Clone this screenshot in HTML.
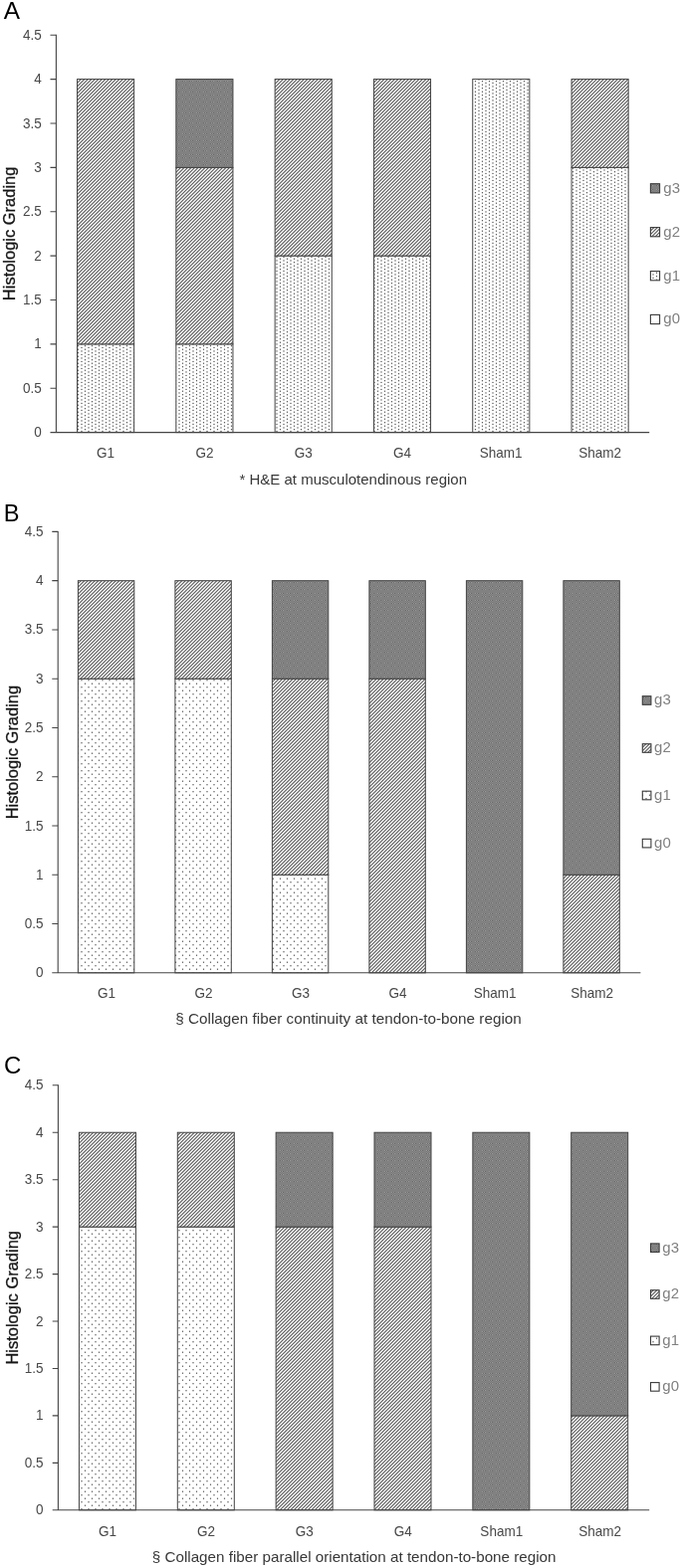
<!DOCTYPE html>
<html lang="en"><head><meta charset="utf-8"><title>Histologic grading charts</title>
<style>html,body{margin:0;padding:0;background:#fff}svg{display:block}text{font-family:"Liberation Sans", sans-serif}</style>
</head><body>
<svg width="685" height="1576" viewBox="0 0 685 1576">
<defs>
<pattern id="g2" patternUnits="userSpaceOnUse" width="35" height="35"><rect width="35" height="35" fill="#fbfbfb"/><path d="M1.00 -1L-1 1.00M4.50 -1L-1 4.50M8.00 -1L-1 8.00M11.50 -1L-1 11.50M15.00 -1L-1 15.00M18.50 -1L-1 18.50M22.00 -1L-1 22.00M25.50 -1L-1 25.50M29.00 -1L-1 29.00M32.50 -1L-1 32.50M36.00 -1L-1 36.00M39.50 -1L-1 39.50M43.00 -1L-1 43.00M46.50 -1L-1 46.50M50.00 -1L-1 50.00M53.50 -1L-1 53.50M57.00 -1L-1 57.00M60.50 -1L-1 60.50M64.00 -1L-1 64.00M67.50 -1L-1 67.50M71.00 -1L-1 71.00M74.50 -1L-1 74.50" stroke="#5a5a5a" stroke-width="1.08" fill="none"/></pattern>
<pattern id="d10" patternUnits="userSpaceOnUse" width="7" height="7" x="0" y="0"><rect width="7" height="7" fill="#fff"/><rect x="0.90" y="0.60" width="1.20" height="1.20" fill="#4c4c4c"/><rect x="4.40" y="2.35" width="1.20" height="1.20" fill="#4c4c4c"/><rect x="0.90" y="4.10" width="1.20" height="1.20" fill="#4c4c4c"/><rect x="4.40" y="5.85" width="1.20" height="1.20" fill="#4c4c4c"/></pattern>
<pattern id="d5" patternUnits="userSpaceOnUse" width="7" height="7" x="0" y="0"><rect width="7" height="7" fill="#fff"/><rect x="0.90" y="0.60" width="1.20" height="1.20" fill="#4c4c4c"/><rect x="4.40" y="4.10" width="1.20" height="1.20" fill="#4c4c4c"/></pattern>
<pattern id="g3" patternUnits="userSpaceOnUse" width="7" height="7"><rect width="7" height="7" fill="#818181"/><rect x="1" y="1" width="1" height="1" fill="#999999"/><rect x="2" y="1" width="1" height="1" fill="#6e6e6e"/><rect x="3" y="1" width="1" height="1" fill="#949494"/><rect x="4" y="1" width="1" height="1" fill="#696969"/><rect x="1" y="2" width="1" height="1" fill="#777777"/><rect x="2" y="2" width="1" height="1" fill="#898989"/><rect x="3" y="2" width="1" height="1" fill="#797979"/><rect x="4" y="2" width="1" height="1" fill="#8b8b8b"/><rect x="1" y="3" width="1" height="1" fill="#8b8b8b"/><rect x="2" y="3" width="1" height="1" fill="#797979"/><rect x="3" y="3" width="1" height="1" fill="#898989"/><rect x="4" y="3" width="1" height="1" fill="#777777"/><rect x="1" y="4" width="1" height="1" fill="#696969"/><rect x="2" y="4" width="1" height="1" fill="#949494"/><rect x="3" y="4" width="1" height="1" fill="#6e6e6e"/><rect x="4" y="4" width="1" height="1" fill="#999999"/></pattern>
</defs>
<rect width="685" height="1576" fill="#fff"/>
<g>
<text x="3.7" y="18.8" font-size="24.4" fill="#000">A</text>
<rect x="77.55" y="345.84" width="57.10" height="88.76" fill="url(#d10)" stroke="#424242" stroke-width="1"/>
<rect x="77.55" y="79.58" width="57.10" height="266.27" fill="url(#g2)" stroke="#424242" stroke-width="1"/>
<rect x="176.85" y="345.84" width="57.10" height="88.76" fill="url(#d10)" stroke="#424242" stroke-width="1"/>
<rect x="176.85" y="168.33" width="57.10" height="177.51" fill="url(#g2)" stroke="#424242" stroke-width="1"/>
<rect x="176.85" y="79.58" width="57.10" height="88.76" fill="url(#g3)" stroke="#424242" stroke-width="1"/>
<rect x="276.15" y="257.09" width="57.10" height="177.51" fill="url(#d10)" stroke="#424242" stroke-width="1"/>
<rect x="276.15" y="79.58" width="57.10" height="177.51" fill="url(#g2)" stroke="#424242" stroke-width="1"/>
<rect x="375.45" y="257.09" width="57.10" height="177.51" fill="url(#d10)" stroke="#424242" stroke-width="1"/>
<rect x="375.45" y="79.58" width="57.10" height="177.51" fill="url(#g2)" stroke="#424242" stroke-width="1"/>
<rect x="474.75" y="79.58" width="57.10" height="355.02" fill="url(#d10)" stroke="#424242" stroke-width="1"/>
<rect x="574.05" y="168.33" width="57.10" height="266.27" fill="url(#d10)" stroke="#424242" stroke-width="1"/>
<rect x="574.05" y="79.58" width="57.10" height="88.76" fill="url(#g2)" stroke="#424242" stroke-width="1"/>
<path d="M56.40 34.70V435.10 M50.50 434.60H652.20" stroke="#454545" stroke-width="1.1" fill="none"/>
<path d="M50.50 390.22H56.40M50.50 345.84H56.40M50.50 301.47H56.40M50.50 257.09H56.40M50.50 212.71H56.40M50.50 168.33H56.40M50.50 123.96H56.40M50.50 79.58H56.40M50.50 35.20H56.40" stroke="#454545" stroke-width="1.1" fill="none"/>
<g font-size="14.4" fill="#484848" text-anchor="end">
<text transform="translate(41.8 439.1) scale(0.94 1)">0</text>
<text transform="translate(41.8 394.7) scale(0.94 1)">0.5</text>
<text transform="translate(41.8 350.3) scale(0.94 1)">1</text>
<text transform="translate(41.8 306.0) scale(0.94 1)">1.5</text>
<text transform="translate(41.8 261.6) scale(0.94 1)">2</text>
<text transform="translate(41.8 217.2) scale(0.94 1)">2.5</text>
<text transform="translate(41.8 172.8) scale(0.94 1)">3</text>
<text transform="translate(41.8 128.5) scale(0.94 1)">3.5</text>
<text transform="translate(41.8 84.1) scale(0.94 1)">4</text>
<text transform="translate(41.8 39.7) scale(0.94 1)">4.5</text>
</g>
<g font-size="14.4" fill="#484848" text-anchor="middle">
<text transform="translate(106.1 459.6) scale(0.94 1)">G1</text>
<text transform="translate(205.4 459.6) scale(0.94 1)">G2</text>
<text transform="translate(304.7 459.6) scale(0.94 1)">G3</text>
<text transform="translate(404.0 459.6) scale(0.94 1)">G4</text>
<text transform="translate(503.2 459.6) scale(0.94 1)">Sham1</text>
<text transform="translate(602.6 459.6) scale(0.94 1)">Sham2</text>
</g>
<text transform="translate(15.4 234.9) rotate(-90)" font-size="16.4" fill="#151515" stroke="#151515" stroke-width="0.3" text-anchor="middle" textLength="134.5" lengthAdjust="spacingAndGlyphs">Histologic Grading</text>
<text x="240.5" y="486.7" font-size="14.4" fill="#383838" textLength="228.5" lengthAdjust="spacingAndGlyphs">* H&amp;E at musculotendinous region</text>
<rect x="653.40" y="184.70" width="9.20" height="9.20" fill="url(#g3)" stroke="#3a3a3a" stroke-width="1.1"/>
<text x="666.3" y="193.6" font-size="15" fill="#808080">g3</text>
<rect x="653.40" y="228.60" width="9.20" height="9.20" fill="url(#g2)" stroke="#3a3a3a" stroke-width="1.1"/>
<text x="666.3" y="237.5" font-size="15" fill="#808080">g2</text>
<rect x="653.40" y="272.60" width="9.20" height="9.20" fill="url(#d10)" stroke="#3a3a3a" stroke-width="1.1"/>
<text x="666.3" y="281.5" font-size="15" fill="#808080">g1</text>
<rect x="653.40" y="316.40" width="9.20" height="9.20" fill="#fff" stroke="#3a3a3a" stroke-width="1.1"/>
<text x="666.3" y="325.3" font-size="15" fill="#808080">g0</text>
</g>
<g>
<text x="3.7" y="523.8" font-size="23.6" fill="#000">B</text>
<rect x="78.40" y="682.20" width="56.40" height="295.60" fill="url(#d5)" stroke="#424242" stroke-width="1"/>
<rect x="78.40" y="583.67" width="56.40" height="98.53" fill="url(#g2)" stroke="#424242" stroke-width="1"/>
<rect x="175.90" y="682.20" width="56.40" height="295.60" fill="url(#d5)" stroke="#424242" stroke-width="1"/>
<rect x="175.90" y="583.67" width="56.40" height="98.53" fill="url(#g2)" stroke="#424242" stroke-width="1"/>
<rect x="273.40" y="879.27" width="56.40" height="98.53" fill="url(#d5)" stroke="#424242" stroke-width="1"/>
<rect x="273.40" y="682.20" width="56.40" height="197.07" fill="url(#g2)" stroke="#424242" stroke-width="1"/>
<rect x="273.40" y="583.67" width="56.40" height="98.53" fill="url(#g3)" stroke="#424242" stroke-width="1"/>
<rect x="370.90" y="682.20" width="56.40" height="295.60" fill="url(#g2)" stroke="#424242" stroke-width="1"/>
<rect x="370.90" y="583.67" width="56.40" height="98.53" fill="url(#g3)" stroke="#424242" stroke-width="1"/>
<rect x="468.40" y="583.67" width="56.40" height="394.13" fill="url(#g3)" stroke="#424242" stroke-width="1"/>
<rect x="565.90" y="879.27" width="56.40" height="98.53" fill="url(#g2)" stroke="#424242" stroke-width="1"/>
<rect x="565.90" y="583.67" width="56.40" height="295.60" fill="url(#g3)" stroke="#424242" stroke-width="1"/>
<path d="M58.20 533.90V978.30 M52.30 977.80H643.40" stroke="#454545" stroke-width="1.1" fill="none"/>
<path d="M52.30 928.53H58.20M52.30 879.27H58.20M52.30 830.00H58.20M52.30 780.73H58.20M52.30 731.47H58.20M52.30 682.20H58.20M52.30 632.93H58.20M52.30 583.67H58.20M52.30 534.40H58.20" stroke="#454545" stroke-width="1.1" fill="none"/>
<g font-size="14.4" fill="#484848" text-anchor="end">
<text transform="translate(43.6 982.3) scale(0.94 1)">0</text>
<text transform="translate(43.6 933.0) scale(0.94 1)">0.5</text>
<text transform="translate(43.6 883.8) scale(0.94 1)">1</text>
<text transform="translate(43.6 834.5) scale(0.94 1)">1.5</text>
<text transform="translate(43.6 785.2) scale(0.94 1)">2</text>
<text transform="translate(43.6 736.0) scale(0.94 1)">2.5</text>
<text transform="translate(43.6 686.7) scale(0.94 1)">3</text>
<text transform="translate(43.6 637.4) scale(0.94 1)">3.5</text>
<text transform="translate(43.6 588.2) scale(0.94 1)">4</text>
<text transform="translate(43.6 538.9) scale(0.94 1)">4.5</text>
</g>
<g font-size="14.4" fill="#484848" text-anchor="middle">
<text transform="translate(107.0 1003.3) scale(0.94 1)">G1</text>
<text transform="translate(204.5 1003.3) scale(0.94 1)">G2</text>
<text transform="translate(302.0 1003.3) scale(0.94 1)">G3</text>
<text transform="translate(399.6 1003.3) scale(0.94 1)">G4</text>
<text transform="translate(497.1 1003.3) scale(0.94 1)">Sham1</text>
<text transform="translate(594.6 1003.3) scale(0.94 1)">Sham2</text>
</g>
<text transform="translate(17.7 756.1) rotate(-90)" font-size="16.4" fill="#151515" stroke="#151515" stroke-width="0.3" text-anchor="middle" textLength="134.5" lengthAdjust="spacingAndGlyphs">Histologic Grading</text>
<text x="176.3" y="1029.4" font-size="14.4" fill="#383838" textLength="347.5" lengthAdjust="spacingAndGlyphs">§ Collagen fiber continuity at tendon-to-bone region</text>
<rect x="645.30" y="699.70" width="8.60" height="8.60" fill="url(#g3)" stroke="#3a3a3a" stroke-width="1.1"/>
<text x="657.1" y="708.3" font-size="15" fill="#808080">g3</text>
<rect x="645.30" y="747.70" width="8.60" height="8.60" fill="url(#g2)" stroke="#3a3a3a" stroke-width="1.1"/>
<text x="657.1" y="756.3" font-size="15" fill="#808080">g2</text>
<rect x="645.30" y="795.20" width="8.60" height="8.60" fill="url(#d5)" stroke="#3a3a3a" stroke-width="1.1"/>
<text x="657.1" y="803.8" font-size="15" fill="#808080">g1</text>
<rect x="645.30" y="843.30" width="8.60" height="8.60" fill="#fff" stroke="#3a3a3a" stroke-width="1.1"/>
<text x="657.1" y="851.9" font-size="15" fill="#808080">g0</text>
</g>
<g>
<text x="3.9" y="1078.6" font-size="24.0" fill="#000">C</text>
<rect x="79.45" y="1233.13" width="57.00" height="284.67" fill="url(#d5)" stroke="#424242" stroke-width="1"/>
<rect x="79.45" y="1138.24" width="57.00" height="94.89" fill="url(#g2)" stroke="#424242" stroke-width="1"/>
<rect x="178.30" y="1233.13" width="57.00" height="284.67" fill="url(#d5)" stroke="#424242" stroke-width="1"/>
<rect x="178.30" y="1138.24" width="57.00" height="94.89" fill="url(#g2)" stroke="#424242" stroke-width="1"/>
<rect x="277.15" y="1233.13" width="57.00" height="284.67" fill="url(#g2)" stroke="#424242" stroke-width="1"/>
<rect x="277.15" y="1138.24" width="57.00" height="94.89" fill="url(#g3)" stroke="#424242" stroke-width="1"/>
<rect x="376.00" y="1233.13" width="57.00" height="284.67" fill="url(#g2)" stroke="#424242" stroke-width="1"/>
<rect x="376.00" y="1138.24" width="57.00" height="94.89" fill="url(#g3)" stroke="#424242" stroke-width="1"/>
<rect x="474.85" y="1138.24" width="57.00" height="379.56" fill="url(#g3)" stroke="#424242" stroke-width="1"/>
<rect x="573.70" y="1422.91" width="57.00" height="94.89" fill="url(#g2)" stroke="#424242" stroke-width="1"/>
<rect x="573.70" y="1138.24" width="57.00" height="284.67" fill="url(#g3)" stroke="#424242" stroke-width="1"/>
<path d="M58.40 1090.30V1518.30 M52.70 1517.80H652.20" stroke="#454545" stroke-width="1.1" fill="none"/>
<path d="M52.70 1470.36H58.40M52.70 1422.91H58.40M52.70 1375.47H58.40M52.70 1328.02H58.40M52.70 1280.58H58.40M52.70 1233.13H58.40M52.70 1185.69H58.40M52.70 1138.24H58.40M52.70 1090.80H58.40" stroke="#454545" stroke-width="1.1" fill="none"/>
<g font-size="14.4" fill="#484848" text-anchor="end">
<text transform="translate(43.6 1522.3) scale(0.94 1)">0</text>
<text transform="translate(43.6 1474.9) scale(0.94 1)">0.5</text>
<text transform="translate(43.6 1427.4) scale(0.94 1)">1</text>
<text transform="translate(43.6 1380.0) scale(0.94 1)">1.5</text>
<text transform="translate(43.6 1332.5) scale(0.94 1)">2</text>
<text transform="translate(43.6 1285.1) scale(0.94 1)">2.5</text>
<text transform="translate(43.6 1237.6) scale(0.94 1)">3</text>
<text transform="translate(43.6 1190.2) scale(0.94 1)">3.5</text>
<text transform="translate(43.6 1142.7) scale(0.94 1)">4</text>
<text transform="translate(43.6 1095.3) scale(0.94 1)">4.5</text>
</g>
<g font-size="14.4" fill="#484848" text-anchor="middle">
<text transform="translate(107.9 1543.5) scale(0.94 1)">G1</text>
<text transform="translate(206.9 1543.5) scale(0.94 1)">G2</text>
<text transform="translate(305.8 1543.5) scale(0.94 1)">G3</text>
<text transform="translate(404.8 1543.5) scale(0.94 1)">G4</text>
<text transform="translate(503.8 1543.5) scale(0.94 1)">Sham1</text>
<text transform="translate(602.7 1543.5) scale(0.94 1)">Sham2</text>
</g>
<text transform="translate(17.7 1304.3) rotate(-90)" font-size="16.4" fill="#151515" stroke="#151515" stroke-width="0.3" text-anchor="middle" textLength="134.5" lengthAdjust="spacingAndGlyphs">Histologic Grading</text>
<text x="152.8" y="1569.7" font-size="14.4" fill="#383838" textLength="405.7" lengthAdjust="spacingAndGlyphs">§ Collagen fiber parallel orientation at tendon-to-bone region</text>
<rect x="653.50" y="1249.90" width="8.60" height="8.60" fill="url(#g3)" stroke="#3a3a3a" stroke-width="1.1"/>
<text x="665.3" y="1258.5" font-size="15" fill="#808080">g3</text>
<rect x="653.50" y="1296.70" width="8.60" height="8.60" fill="url(#g2)" stroke="#3a3a3a" stroke-width="1.1"/>
<text x="665.3" y="1305.3" font-size="15" fill="#808080">g2</text>
<rect x="653.50" y="1343.10" width="8.60" height="8.60" fill="url(#d5)" stroke="#3a3a3a" stroke-width="1.1"/>
<text x="665.3" y="1351.7" font-size="15" fill="#808080">g1</text>
<rect x="653.50" y="1389.60" width="8.60" height="8.60" fill="#fff" stroke="#3a3a3a" stroke-width="1.1"/>
<text x="665.3" y="1398.2" font-size="15" fill="#808080">g0</text>
</g>
</svg>
</body></html>
